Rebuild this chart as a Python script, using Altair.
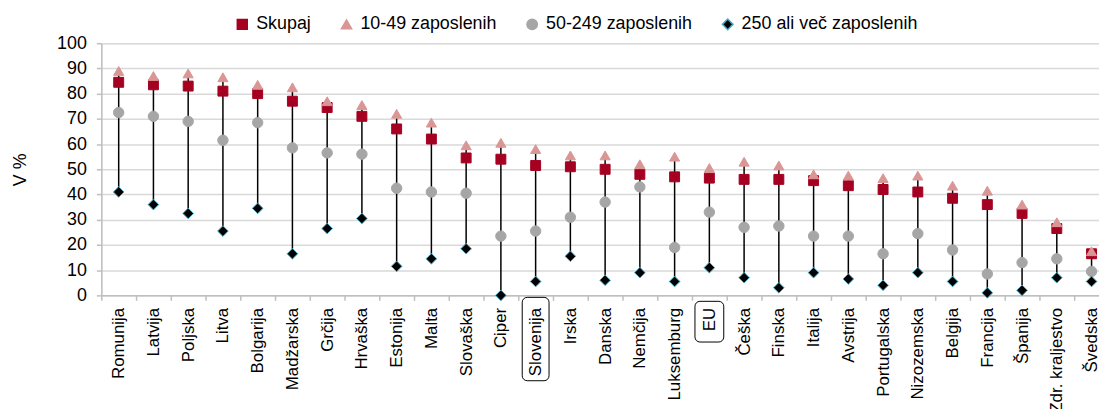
import altair as alt
import pandas as pd

countries = ["Romunija", "Latvija", "Poljska", "Litva", "Bolgarija", "Madžarska", "Grčija",
             "Hrvaška", "Estonija", "Malta", "Slovaška", "Ciper", "Slovenija", "Irska",
             "Danska", "Nemčija", "Luksemburg", "EU", "Češka", "Finska", "Italija",
             "Avstrija", "Portugalska", "Nizozemska", "Belgija", "Francija", "Španija",
             "Zdr. kraljestvo", "Švedska"]

skupaj = [84.5, 83.5, 83, 81, 80, 77, 74.5, 71, 66, 62, 54.5, 54, 51.5, 51, 50, 48, 47,
          46.5, 46, 46, 45.5, 43.5, 42, 41, 38.5, 36, 32.5, 26.5, 16.5]
z10_49 = [89, 87, 88, 86.5, 83.5, 82.5, 77, 75.5, 72, 68.5, 59.5, 60.5, 58, 55.5, 55.5,
          52, 55, 50.5, 53, 51.5, 48, 47.5, 46.5, 47.5, 43.5, 41.5, 36, 29, 17.5]
z50_249 = [72.5, 71, 69, 61.5, 68.5, 58.5, 56.5, 56, 42.5, 41, 40.5, 23.5, 25.5, 31, 37,
           43, 19, 33, 27, 27.5, 23.5, 23.5, 16.5, 24.5, 18, 8.5, 13, 14.5, 9.5]
z250 = [41, 36, 32.5, 25.5, 34.5, 16.5, 26.5, 30.5, 11.5, 14.5, 18.5, 0, 5.5, 15.5, 6,
        9, 5.5, 11, 7, 3, 9, 6.5, 4, 9, 5.5, 1, 2, 7, 5.5]
y_ticks = [0, 10, 20, 30, 40, 50, 60, 70, 80, 90, 100]

series_names = ["Skupaj", "10-49 zaposlenih", "50-249 zaposlenih", "250 ali več zaposlenih"]
series_values = [skupaj, z10_49, z50_249, z250]
fills = ["#A50021", "#DA9694", "#A6A6A6", "#000000"]
strokes = ["#A50021", "#DA9694", "#A6A6A6", "#4BACC6"]
shapes = ["square", "triangle-up", "circle", "diamond"]
sizes = [100, 115, 72, 52]

boxed = ["Slovenija", "EU"]

rows = []
for s, vals in zip(series_names, series_values):
    for c, v in zip(countries, vals):
        rows.append({"drzava": c, "serija": s, "vrednost": v})
df = pd.DataFrame(rows)

box_df = pd.DataFrame({"drzava": boxed})

FONT = "Liberation Sans"

x_axis = alt.Axis(title=None, labelAngle=-90, labelFontSize=17, labelFont=FONT,
                  labelColor="#000000", labelPadding=7, tickBand="extent",
                  tickSize=5, tickColor="#BFBFBF", domainColor="#BFBFBF",
                  domainWidth=1.5, tickWidth=1.5, grid=False, labelLimit=300,
                  labelOverlap=False)
x_scale = alt.Scale(range=[0, 1015], paddingInner=0, paddingOuter=0)
x_enc = alt.X("drzava:N", sort=countries, scale=x_scale, axis=x_axis)

y_scale = alt.Scale(domain=[0, 100], nice=False, zero=True)
y_axis = alt.Axis(title="V %", values=y_ticks, tickCount=len(y_ticks), labelFontSize=18,
                  labelFont=FONT, labelColor="#000000", titleFont=FONT, titleFontSize=18,
                  titleFontWeight="normal", titleColor="#000000", titlePadding=27,
                  labelPadding=10, tickSize=5, tickColor="#BFBFBF", domainColor="#BFBFBF",
                  domainWidth=1.5, tickWidth=1.5, gridColor="#D9D9D9", gridWidth=1.5,
                  labelOverlap=False)

base = alt.Chart(df)

rules = base.transform_aggregate(
    lo="min(vrednost)", hi="max(vrednost)", groupby=["drzava"]
).mark_rule(color="#000000", strokeWidth=1.5).encode(
    x=x_enc,
    y=alt.Y("lo:Q", scale=y_scale, axis=y_axis, title="V %"),
    y2="hi:Q",
)

leg = alt.Legend(title=None, orient="none", direction="horizontal", legendX=133, legendY=-28,
                 labelFontSize=18, labelFont=FONT, labelColor="#000000", labelOffset=5,
                 columnPadding=26, padding=0, labelLimit=400)

points = base.mark_point(filled=True, opacity=1, strokeWidth=1).encode(
    x=x_enc,
    y=alt.Y("vrednost:Q", scale=y_scale, axis=y_axis, title="V %"),
    fill=alt.Fill("serija:N", sort=series_names,
                  scale=alt.Scale(domain=series_names, range=fills), legend=leg),
    stroke=alt.Stroke("serija:N", sort=series_names,
                      scale=alt.Scale(domain=series_names, range=strokes), legend=leg),
    shape=alt.Shape("serija:N", sort=series_names,
                    scale=alt.Scale(domain=series_names, range=shapes), legend=leg),
    size=alt.Size("serija:N", sort=series_names,
                  scale=alt.Scale(domain=series_names, range=sizes), legend=leg),
)

box_slo = alt.Chart(box_df[box_df.drzava == "Slovenija"]).mark_bar(
    filled=False, stroke="#000000", strokeWidth=1, cornerRadius=5, width=27).encode(
    x=alt.X("drzava:N", sort=countries, scale=x_scale, axis=x_axis),
    y=alt.value(256),
    y2=alt.value(340),
)
box_eu = alt.Chart(box_df[box_df.drzava == "EU"]).mark_bar(
    filled=False, stroke="#000000", strokeWidth=1, cornerRadius=5, width=29).encode(
    x=alt.X("drzava:N", sort=countries, scale=x_scale, axis=x_axis),
    y=alt.value(260),
    y2=alt.value(301),
)

chart = alt.layer(rules, points, box_slo, box_eu).properties(
    width=1005, height=254,
    autosize=alt.AutoSizeParams(type="none"),
    padding={"left": 94, "top": 34, "right": 0, "bottom": 113},
).configure_view(stroke=None).configure(background="white")

chart.save("out.html", embed_options={"renderer": "svg", "actions": False})
